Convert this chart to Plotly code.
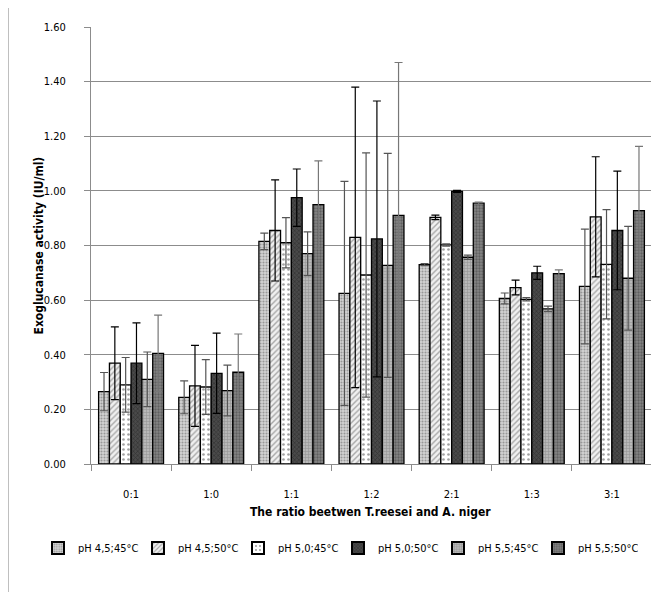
import plotly.graph_objects as go

categories = ["0:1", "1:0", "1:1", "1:2", "2:1", "1:3", "3:1"]
series_names = ["pH 4,5;45°C", "pH 4,5;50°C", "pH 5,0;45°C", "pH 5,0;50°C", "pH 5,5;45°C", "pH 5,5;50°C"]

s1 = [0.265, 0.244, 0.815, 0.625, 0.730, 0.606, 0.650]
s2 = [0.369, 0.286, 0.855, 0.830, 0.903, 0.646, 0.905]
s3 = [0.290, 0.282, 0.810, 0.692, 0.802, 0.603, 0.731]
s4 = [0.369, 0.332, 0.975, 0.824, 0.998, 0.700, 0.855]
s5 = [0.310, 0.269, 0.770, 0.727, 0.757, 0.568, 0.680]
s6 = [0.405, 0.336, 0.950, 0.910, 0.955, 0.697, 0.928]

e1 = [0.070, 0.060, 0.030, 0.410, 0.004, 0.020, 0.210]
e2 = [0.133, 0.148, 0.185, 0.550, 0.008, 0.027, 0.220]
e3 = [0.100, 0.100, 0.092, 0.447, 0.004, 0.006, 0.200]
e4 = [0.148, 0.147, 0.105, 0.505, 0.004, 0.024, 0.217]
e5 = [0.100, 0.093, 0.080, 0.410, 0.008, 0.010, 0.190]
e6 = [0.140, 0.140, 0.160, 0.560, 0.004, 0.014, 0.235]

values = [s1, s2, s3, s4, s5, s6]
errors = [e1, e2, e3, e4, e5, e6]

styles = [
    dict(bg="#d4d4d4", fg="#5a5a5a", shape=".", size=3, sol=0.4, err="#555555"),
    dict(bg="#f0f0f0", fg="#606060", shape="/", size=4, sol=0.35, err="#000000"),
    dict(bg="#ffffff", fg="#444444", shape=".", size=5, sol=0.22, err="#555555"),
    dict(bg="#4a4a4a", fg="#1a1a1a", shape="x", size=3, sol=0.4, err="#000000"),
    dict(bg="#b8b8b8", fg="#707070", shape="+", size=3, sol=0.35, err="#555555"),
    dict(bg="#858585", fg="#3a3a3a", shape=".", size=3, sol=0.45, err="#777777"),
]

fig = go.Figure()
for name, v, e, st in zip(series_names, values, errors, styles):
    fig.add_trace(go.Bar(
        x=categories, y=v, name=name,
        marker=dict(
            color=st["bg"],
            line=dict(color="#000000", width=1.3),
            pattern=dict(shape=st["shape"], fgcolor=st["fg"], bgcolor=st["bg"],
                         size=st["size"], solidity=st["sol"], fillmode="overlay"),
        ),
        error_y=dict(type="data", array=e, visible=True, color=st["err"],
                     thickness=1.2, width=4),
    ))

font_family = "DejaVu Sans Condensed, Liberation Sans Narrow, Liberation Sans"
title_font = dict(size=12, family="DejaVu Sans Condensed, Liberation Sans", color="#000000")

W, H = 651, 584
L, R, T, B = 83, 7, 19, 128
PW, PH = W - L - R, H - T - B

fig.update_layout(
    width=W, height=H,
    margin=dict(l=L, r=R, t=T, b=B, autoexpand=False),
    paper_bgcolor="white", plot_bgcolor="white",
    barmode="group", bargap=0.19, bargroupgap=0,
    font=dict(family=font_family, size=11, color="#000000"),
    showlegend=True,
    legend=dict(orientation="h", x=(30 - L) / PW, xanchor="left",
                y=-(540 - (H - B)) / PH, yanchor="middle",
                font=dict(size=11, family=font_family),
                itemwidth=30, entrywidth=55, entrywidthmode="pixels",
                tracegroupgap=0, traceorder="normal", itemsizing="constant"),
    xaxis=dict(
        automargin=False,
        showline=True, linecolor="#8c8c8c", linewidth=1,
        ticks="outside", tickson="boundaries", ticklen=6, tickcolor="#8c8c8c",
        ticklabelstandoff=20,
        tickfont=dict(size=11),
        showgrid=False,
    ),
    yaxis=dict(
        automargin=False,
        range=[0, 1.6], dtick=0.2, tickformat=".2f",
        showline=True, linecolor="#8c8c8c", linewidth=1,
        ticks="outside", ticklen=6, tickcolor="#8c8c8c",
        ticklabelstandoff=16,
        showgrid=True, gridcolor="#8c8c8c", gridwidth=1,
        zeroline=False,
        tickfont=dict(size=11),
    ),
    annotations=[
        dict(text="<b>Exoglucanase activity (IU/ml)</b>", xref="paper", yref="paper",
             x=(30 - L) / PW, y=0.5, textangle=-90, showarrow=False,
             xanchor="center", yanchor="middle", font=title_font),
        dict(text="<b>The ratio beetwen T.reesei and A. niger</b>", xref="paper", yref="paper",
             x=(362 - L) / PW, y=-(504 - (H - B)) / PH, showarrow=False,
             xanchor="center", yanchor="middle", font=title_font),
    ],
    shapes=[dict(type="line", xref="paper", yref="paper", x0=(0.5 - L) / PW, x1=(0.5 - L) / PW,
                 y0=-0.3, y1=1.1, line=dict(color="#bfbfbf", width=1))],
)

fig.write_html("out.html")
